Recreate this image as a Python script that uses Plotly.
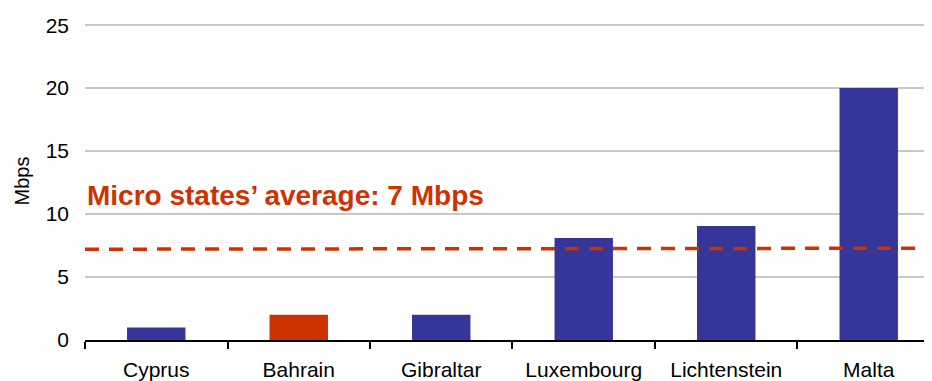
import plotly.graph_objects as go

countries = ["Cyprus", "Bahrain", "Gibraltar", "Luxembourg", "Lichtenstein", "Malta"]
speeds = [1, 2, 2, 8.1, 9.05, 20]
bar_colors = ["#35359A", "#CC3300", "#35359A", "#35359A", "#35359A", "#35359A"]
avg_y = [7.21, 7.29]
y_ticks = [0, 5, 10, 15, 20, 25]

fig = go.Figure()
fig.add_trace(go.Bar(x=countries, y=speeds, marker=dict(color=bar_colors, line=dict(width=0)),
                     width=0.41, showlegend=False))
fig.add_trace(go.Scatter(x=[0, 1], y=avg_y, xaxis="x2", mode="lines",
                         line=dict(color="#CC3300", width=3.5, dash="14px,10px"), showlegend=False))

# page body has an 8px margin, so the figure is drawn 8px smaller and offset
fig.update_layout(
    width=924, height=373,
    margin=dict(l=77, r=0, t=14, b=41),
    plot_bgcolor="white", paper_bgcolor="white",
    font=dict(family="Liberation Sans, Arial, sans-serif", color="black"),
    xaxis=dict(type="category", range=[-0.5, 5.444], tickson="boundaries", automargin=False,
               ticks="outside", ticklen=7, tickcolor="black", tickwidth=1.5,
               showline=True, linecolor="black", linewidth=1.5, showgrid=False,
               tickfont=dict(size=21), ticklabelstandoff=10),
    xaxis2=dict(overlaying="x", range=[0, 1], visible=False),
    yaxis=dict(range=[0, 25.25], tickvals=y_ticks, showgrid=True, gridcolor="#C8C8C8", gridwidth=1.5,
               zeroline=False, showline=False, tickfont=dict(size=21), ticklabelstandoff=15,
               automargin=False,
               title=dict(text="Mbps", font=dict(size=20), standoff=10)),
    annotations=[dict(text="<b>Micro states’ average: 7 Mbps</b>", xref="paper", yref="paper",
                      x=0.0, y=0.455, xanchor="left", yanchor="middle", showarrow=False,
                      font=dict(size=28, color="#CC3300"))],
)
fig.write_html("out.html")
